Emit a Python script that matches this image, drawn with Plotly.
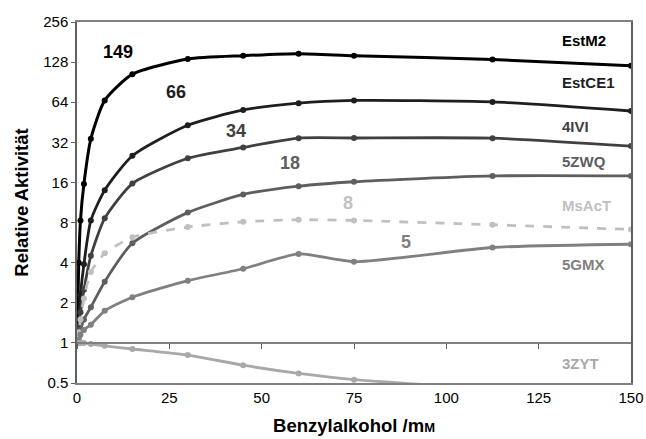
import numpy as np
import plotly.graph_objects as go

conc = [0, 0.47, 0.94, 1.875, 3.75, 7.5, 15, 30, 45, 60, 75, 112.5, 150]

est_m2 = [1, 4.0, 8.3, 15.6, 34, 66, 104, 135, 143, 148, 143, 134, 120]
est_ce1 = [1, 1.5, 2.3, 3.9, 8.3, 14, 25.4, 43, 56, 63, 66, 64.3, 55]
ivi4 = [1, 1.3, 1.7, 2.5, 4.5, 8.6, 15.7, 24.3, 29.3, 34.4, 34.5, 34.4, 30]
zwq5 = [1, 1.1, 1.25, 1.5, 1.85, 2.88, 5.6, 9.5, 13, 15, 16.2, 17.9, 17.9]
msact = [1, 1.2, 1.5, 2.15, 3.4, 4.7, 6.2, 7.4, 8.1, 8.4, 8.3, 7.7, 7.1]
gmx5 = [1, 1.05, 1.15, 1.25, 1.37, 1.74, 2.2, 2.93, 3.6, 4.65, 4.07, 5.2, 5.5]
zyt3 = [1, 1.0, 1.0, 1.0, 0.98, 0.95, 0.9, 0.81, 0.68, 0.59, 0.53, 0.45, 0.38]

names = ["EstM2", "EstCE1", "4IVI", "5ZWQ", "MsAcT", "5GMX", "3ZYT"]
series = [est_m2, est_ce1, ivi4, zwq5, msact, gmx5, zyt3]
colors = ["#000000", "#1e1e1e", "#404040", "#5e5e5e", "#c0c0c0", "#808080", "#a8a8a8"]
dashes = ["solid", "solid", "solid", "solid", "dash", "solid", "solid"]
widths = [3, 2.8, 2.8, 2.8, 2.8, 2.8, 2.8]

# right-side name labels (x, y in data units)
name_x = 130.8
name_y = [187, 89.6, 42.4, 23, 10.7, 3.9, 0.70]

# max-activity labels
max_text = ["149", "66", "34", "18", "8", "5"]
max_x = [11.1, 26.8, 43, 57.7, 73.4, 89]
max_y = [152, 76, 38.7, 22.2, 11.3, 5.75]

y_ticks = [0.5, 1, 2, 4, 8, 16, 32, 64, 128, 256]
y_tick_text = ["0.5", "1", "2", "4", "8", "16", "32", "64", "128", "256"]
x_ticks = [0, 25, 50, 75, 100, 125, 150]

FONT = "Liberation Sans, Arial, sans-serif"

fig = go.Figure()
for nm, ys, c, d, w in zip(names, series, colors, dashes, widths):
    fig.add_trace(go.Scatter(
        x=conc, y=ys, name=nm, mode="lines+markers",
        line=dict(color=c, width=w, dash=d, shape="spline", smoothing=0.6),
        marker=dict(color=c, size=6),
        showlegend=False,
    ))

# dummy trace to carry the axis that crosses at y = 1
fig.add_trace(go.Scatter(x=[0], y=[1], xaxis="x2", yaxis="y", mode="markers",
                         marker=dict(opacity=0), showlegend=False, hoverinfo="skip"))

for nm, c, yv in zip(names, colors, name_y):
    fig.add_annotation(x=name_x, y=np.log10(yv), text="<b>%s</b>" % nm,
                       showarrow=False, xanchor="left", yanchor="middle",
                       font=dict(family=FONT, size=15, color=c))

for t, xv, yv, c in zip(max_text, max_x, max_y, colors):
    fig.add_annotation(x=xv, y=np.log10(yv), text="<b>%s</b>" % t,
                       showarrow=False, xanchor="center", yanchor="middle",
                       font=dict(family=FONT, size=18, color=c))

ymin, ymax = np.log10(0.5), np.log10(256)
cross = (np.log10(1) - ymin) / (ymax - ymin)

fig.update_layout(
    width=646, height=439,
    margin=dict(l=77, r=15, t=22, b=56),
    paper_bgcolor="white", plot_bgcolor="white",
    font=dict(family=FONT, size=15, color="#000"),
    xaxis=dict(range=[0, 150], tickvals=x_ticks, ticks="", showgrid=False,
               zeroline=False, showline=True, linecolor="#808080", linewidth=1.5,
               mirror=True, automargin=False,
               title=dict(text="<b>Benzylalkohol /m<span style='font-size:13px'>M</span></b>",
                          font=dict(size=18.5), standoff=14),
               tickfont=dict(size=15)),
    xaxis2=dict(range=[0, 150], overlaying="x", anchor="free", position=cross,
                tickvals=x_ticks, ticks="outside", ticklen=5, tickcolor="#606060",
                showticklabels=False, showgrid=False, zeroline=False,
                showline=True, linecolor="#808080", linewidth=1.5, automargin=False),
    yaxis=dict(type="log", range=[ymin, ymax], tickvals=y_ticks, ticktext=y_tick_text,
               ticks="outside", ticklen=4, tickcolor="#606060", showgrid=False,
               zeroline=False, showline=True, linecolor="#606060", linewidth=1.5,
               mirror=True, automargin=False,
               title=dict(text="<b>Relative Aktivität</b>", font=dict(size=18.5), standoff=10),
               tickfont=dict(size=15)),
)

fig.write_html("out.html", config={"displayModeBar": False},
               post_script="document.body.style.margin='0px';document.body.style.padding='0px';")
